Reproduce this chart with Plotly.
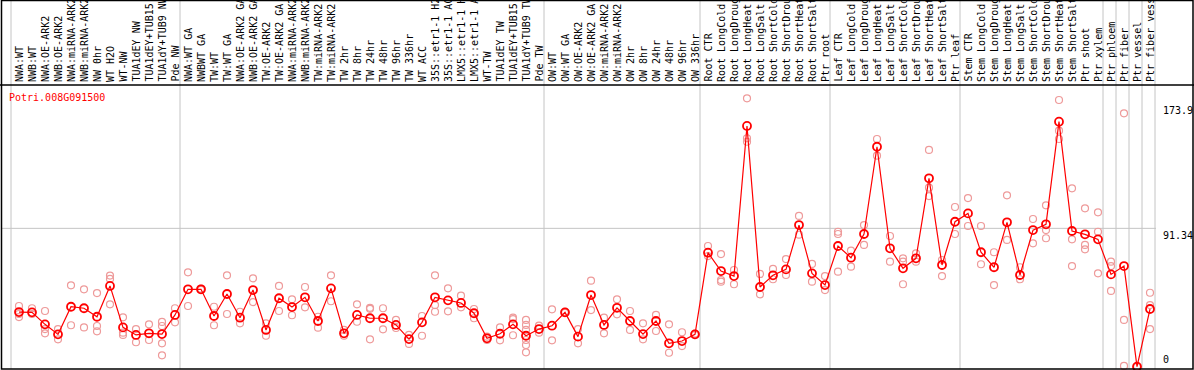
import plotly.graph_objects as go

categories = [
    "NWA:WT", "NWB:WT", "NWA:OE-ARK2", "NWB:OE-ARK2", "NWA:miRNA-ARK2", "NWB:miRNA-ARK2",
    "NW 0hr", "WT H2O", "WT-NW", "TUA1dEY NW", "TUA1dEY+TUB15 NW", "TUA1dY+TUB9 NW", "Pde NW",
    "NWA:WT GA", "NWBWT GA", "TW:WT", "TW:WT GA", "NWA:OE-ARK2 GA", "NWB:OE-ARK2 GA",
    "TW:OE-ARK2", "TW:OE-ARK2 GA", "NWA:miRNA-ARK2 GA", "NWB:miRNA-ARK2 GA", "TW:miRNA-ARK2",
    "TW:miRNA-ARK2 GA", "TW 2hr", "TW 8hr", "TW 24hr", "TW 48hr", "TW 96hr", "TW 336hr", "WT ACC",
    "35S::etr1-1 H2O", "35S::etr1-1 ACC", "LMX5::etr1-1 H2O", "LMX5::etr1-1 ACC", "WT-TW",
    "TUA1dEY TW", "TUA1dEY+TUB15 TW", "TUA1dY+TUB9 TW", "Pde TW",
    "OW:WT", "OW:WT GA", "OW:OE-ARK2", "OW:OE-ARK2 GA", "OW:miRNA-ARK2", "OW:miRNA-ARK2 GA",
    "OW 2hr", "OW 8hr", "OW 24hr", "OW 48hr", "OW 96hr", "OW 336hr",
    "Root CTR", "Root LongCold", "Root LongDrought", "Root LongHeat", "Root LongSalt",
    "Root ShortCold", "Root ShortDrought", "Root ShortHeat", "Root ShortSalt", "Ptr root",
    "Leaf CTR", "Leaf LongCold", "Leaf LongDrought", "Leaf LongHeat", "Leaf LongSalt",
    "Leaf ShortCold", "Leaf ShortDrought", "Leaf ShortHeat", "Leaf ShortSalt", "Ptr leaf",
    "Stem CTR", "Stem LongCold", "Stem LongDrought", "Stem LongHeat", "Stem LongSalt",
    "Stem ShortCold", "Stem ShortDrought", "Stem ShortHeat", "Stem ShortSalt", "Ptr shoot",
    "Ptr xylem", "Ptr phloem", "Ptr fiber", "Ptr vessel", "Ptr fiber vessel",
]

means = [
    36.2, 36.0, 28.1, 21.5, 39.7, 38.7, 33.1, 53.4, 26.1, 21.1, 22.2, 21.7, 34.3,
    51.2, 51.2, 33.6, 48.1, 32.5, 50.7, 24.4, 45.3, 39.5, 45.9, 30.3, 51.8, 22.2, 34.3, 32.1,
    32.1, 27.7, 18.4, 29.4, 45.9, 43.9, 42.2, 35.4, 18.9, 21.9, 28.1, 20.6, 25.0,
    27.2, 36.0, 20.0, 47.4, 27.7, 39.0, 30.3, 21.7, 30.3, 15.6, 17.1, 21.5,
    75.3, 63.2, 59.9, 158.8, 52.7, 60.4, 64.3, 93.5, 61.7, 54.0,
    79.7, 72.0, 87.6, 145.1, 78.2, 65.0, 71.6, 124.3, 67.2, 95.7,
    101.2, 75.6, 65.7, 95.3, 60.6, 90.2, 94.0, 161.6, 89.6, 87.4, 84.1,
    61.0, 66.5, 0.2, 38.2,
]

replicates = [
    [40.2, 34.9, 32.9], [38.7, 34.9], [36.9, 25.0, 22.2], [25.0, 18.2], [53.8, 27.5],
    [51.2, 26.1], [48.7, 27.0, 23.5], [60.2, 58.0, 41.3], [32.7, 22.6, 21.1], [25.0, 16.3],
    [28.1, 17.8], [29.7, 27.0, 15.6, 7.7], [38.7, 29.4],
    [62.4, 40.2], [51.6, 50.8], [39.7, 27.5], [60.4, 34.9], [36.4, 28.8], [58.4, 42.8],
    [28.8, 20.6], [53.4, 36.9], [44.6, 34.1], [52.7, 39.3], [33.1, 25.9], [60.4, 43.3],
    [24.4, 20.6], [41.3, 29.8], [39.0, 38.3, 18.2], [38.7, 24.8], [31.0, 25.7], [21.1, 15.2],
    [33.6, 20.6], [60.4, 40.8, 36.4], [51.8, 36.7], [47.0, 39.3], [38.2, 32.1], [20.0, 17.8],
    [26.1, 17.6], [32.5, 31.6, 20.9], [31.0, 27.7, 24.4, 17.8, 14.5, 9.7], [27.2, 22.6],
    [38.0, 17.6], [36.4, 35.6], [25.0, 15.6], [56.9, 37.5], [32.5, 22.2], [44.6, 34.7],
    [36.9, 24.4], [28.8, 18.2], [34.3, 23.7], [28.1, 9.4], [22.9, 13.8], [22.0, 21.0],
    [79.7, 73.1], [74.4, 57.3, 56.2], [63.9, 54.5], [177.0, 150.7, 148.4], [61.3, 47.9],
    [64.6, 57.8], [71.1, 60.6], [99.5, 87.2], [67.9, 56.2], [59.9, 50.7],
    [89.1, 87.6, 62.8], [76.6, 66.1], [93.5, 80.4], [150.2, 139.2], [86.3, 69.4],
    [71.6, 69.4, 54.5], [74.9, 69.4], [143.0, 118.1, 112.6], [70.5, 59.9], [105.4, 87.6],
    [111.3, 92.9], [92.9, 67.7], [75.6, 54.0], [113.1, 83.7], [65.7, 57.8], [97.5, 81.5],
    [106.5, 90.2, 84.8], [175.9, 155.7, 150.2], [117.7, 84.1, 66.5], [104.5, 80.4, 77.5],
    [101.9, 89.1, 61.7],
    [69.4, 66.5, 50.1], [167.1, 31.0, 0.7], [0.0, 0.3], [48.9, 40.8, 25.0],
]

group_bounds = [0, 13, 41, 53, 63, 73, 84, 85, 86, 87, 88]
axis_labels = ["173.9", "91.34", "0"]
axis_values = [173.9, 91.34, 0]
gene = "Potri.008G091500"

W, H = 1194, 370
PX0, PXS = 19, 13          # pixel of first category, pixels per category
Y0PIX, YSCALE = 367, 1.518  # pixel of value 0, pixels per unit
TOP, BOT = 85, 369

def xpix_to_data(p):
    return (p - PX0) / PXS

def ypix_to_paper(p):
    return 1 - p / H

xs = list(range(len(categories)))
rx, ry = [], []
for i, reps in enumerate(replicates):
    for v in reps:
        rx.append(i)
        ry.append(v)

fig = go.Figure()
fig.add_trace(go.Scatter(
    x=rx, y=ry, mode="markers", hoverinfo="skip",
    marker=dict(symbol="circle-open", size=7, color="#EE9A9A", line=dict(width=1.2)),
    cliponaxis=False,
))
fig.add_trace(go.Scatter(
    x=xs, y=means, mode="lines+markers", text=categories,
    line=dict(color="#FF0000", width=1.2),
    marker=dict(symbol="circle-open", size=8, color="#FF0000", line=dict(width=1.8)),
    cliponaxis=False,
))

shapes = []
for b in group_bounds:
    xb = xpix_to_data(11 + PXS * b)
    shapes.append(dict(type="line", xref="x", yref="paper", x0=xb, x1=xb,
                       y0=ypix_to_paper(BOT), y1=1, layer="below",
                       line=dict(color="#C4C4C4", width=1)))
shapes.append(dict(type="line", xref="x", yref="y", x0=xpix_to_data(1), x1=xpix_to_data(1156),
                   y0=91.34, y1=91.34, layer="below", line=dict(color="#C4C4C4", width=1)))
# frame
shapes.append(dict(type="rect", xref="paper", yref="paper", x0=1.5 / W, x1=1193 / W,
                   y0=ypix_to_paper(BOT), y1=1 - 0.5 / H, line=dict(color="black", width=1.5)))
shapes.append(dict(type="line", xref="paper", yref="paper", x0=0, x1=1,
                   y0=ypix_to_paper(TOP), y1=ypix_to_paper(TOP), line=dict(color="black", width=1.5)))

annotations = []
for i, c in enumerate(categories):
    annotations.append(dict(x=i, xref="x", y=ypix_to_paper(83), yref="paper", text=c,
                            textangle=-90, xanchor="center", yanchor="bottom", showarrow=False,
                            borderpad=0, font=dict(family="DejaVu Sans Mono", size=10, color="black")))
annotations.append(dict(x=8 / W, xref="paper", y=ypix_to_paper(91), yref="paper", text=gene,
                        xanchor="left", yanchor="top", showarrow=False, borderpad=0,
                        font=dict(family="DejaVu Sans Mono", size=10, color="#FF0000")))
for lab, v in zip(axis_labels, axis_values):
    if v == 0:
        annotations.append(dict(x=1162 / W, xref="paper", y=v, yref="y", yshift=1, text=lab,
                                xanchor="left", yanchor="bottom", showarrow=False, borderpad=0,
                                font=dict(family="DejaVu Sans Mono", size=10, color="black")))
    else:
        annotations.append(dict(x=1162 / W, xref="paper", y=v, yref="y", yshift=-1, text=lab,
                                xanchor="left", yanchor="top", showarrow=False, borderpad=0,
                                font=dict(family="DejaVu Sans Mono", size=10, color="black")))

fig.update_layout(
    width=W, height=H, margin=dict(l=0, r=0, t=0, b=0),
    paper_bgcolor="white", plot_bgcolor="white", showlegend=False,
    xaxis=dict(range=[xpix_to_data(0), xpix_to_data(W)], domain=[0, 1], visible=False,
               showgrid=False, zeroline=False),
    yaxis=dict(range=[(Y0PIX - BOT) / YSCALE, (Y0PIX - TOP) / YSCALE],
               domain=[ypix_to_paper(BOT), ypix_to_paper(TOP)], visible=False,
               showgrid=False, zeroline=False),
    shapes=shapes, annotations=annotations,
)

fig.write_html(
    "out.html",
    config={"displayModeBar": False},
    post_script="document.body.style.margin='0px';document.body.style.overflow='hidden';",
)
